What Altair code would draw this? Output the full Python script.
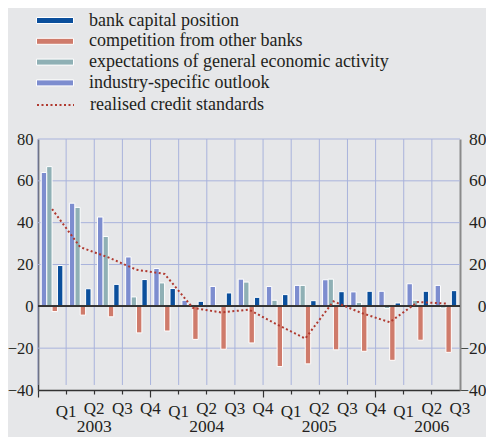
import altair as alt
import pandas as pd

quarters = ["Q1 2003", "Q2 2003", "Q3 2003", "Q4 2003",
            "Q1 2004", "Q2 2004", "Q3 2004", "Q4 2004",
            "Q1 2005", "Q2 2005", "Q3 2005", "Q4 2005",
            "Q1 2006", "Q2 2006", "Q3 2006"]
years = ["2003", "2004", "2005", "2006"]
year_anchor = ["Q3 2003", "Q3 2004", "Q3 2005", "Q3 2006"]

bank_capital = [19.5, 8.4, 10.5, 12.8, 8.5, 2.4, 6.4, 4.3, 5.6, 2.7, 7.0, 7.2, 1.6, 7.2, 7.5]
competition = [-2.5, -4.2, -5.0, -12.7, -11.8, -15.8, -20.5, -17.5, -28.8, -27.5, -20.8, -21.5, -25.8, -16.2, -22.0]
expectations = [66.8, 47.3, 33.4, 4.5, 11.2, 0.3, 0.7, 11.6, 2.9, 10.0, 13.0, 1.9, -1.0, 2.9, -0.8]
industry = [64.0, 49.3, 42.7, 23.6, 18.1, 2.9, 9.5, 13.0, 9.5, 10.0, 12.7, 6.9, 7.2, 10.8, 10.0]
realised = [46.5, 28.3, 23.4, 17.5, 15.5, -0.7, -2.9, -1.6, -8.7, -15.4, 2.4, -3.2, -7.6, 2.1, 1.3]

series_names = ["bank capital position", "competition from other banks",
                "expectations of general economic activity", "industry-specific outlook"]
bar_colors = ["#0b4f9c", "#cf7b6b", "#8fb0b5", "#7d8dcf"]
offset_order = ["industry-specific outlook", "expectations of general economic activity",
                "competition from other banks", "bank capital position"]
line_name = "realised credit standards"
grid_values = [-20, 20, 40, 60, 80]
y_ticks = [-40, -20, 0, 20, 40, 60, 80]

rows = []
for name, vals in zip(series_names, [bank_capital, competition, expectations, industry]):
    for q, v in zip(quarters, vals):
        rows.append({"quarter": q, "series": name, "value": v})
bars_df = pd.DataFrame(rows)
line_df = pd.DataFrame({"quarter": quarters, "value": realised, "series": [line_name] * len(quarters)})
grid_df = pd.DataFrame({"v": grid_values})
vgrid_df = pd.DataFrame({"quarter": quarters})
year_df = pd.DataFrame({"quarter": year_anchor, "year": years})

FONT = "Liberation Serif"
TXT = "#231f20"
GRID = "#a9b3dc"
W, H = 422, 251

xscale = alt.Scale(domain=quarters, paddingInner=0, paddingOuter=0)
yscale = alt.Scale(domain=[-40, 80], nice=False, zero=False)

hgrid = alt.Chart(grid_df).mark_rule(color=GRID, strokeWidth=1).encode(
    y=alt.Y("v:Q", scale=yscale, axis=None)
)
vgrid = alt.Chart(vgrid_df).mark_rule(color=GRID, strokeWidth=1).encode(
    x=alt.X("quarter:N", sort=quarters, scale=xscale, bandPosition=0, axis=None),
    y=alt.datum(80, scale=yscale, axis=None),
    y2=alt.datum(-37.6),
)

bars = alt.Chart(bars_df).mark_bar(stroke="white", strokeWidth=1).encode(
    x=alt.X("quarter:N", sort=quarters, scale=xscale, title=None,
            axis=alt.Axis(bandPosition=0, labelOffset=14, ticks=True,
                          tickSize={"condition": {"test": "indexof(datum.value, 'Q1') === 0", "value": 7},
                                    "value": 4},
                          labelExpr="split(datum.label, ' ')[0]",
                          labelFont=FONT, labelFontSize=17, labelColor=TXT,
                          labelPadding=6, labelAngle=0,
                          domainColor="#333333", domainWidth=1.5,
                          tickColor="#333333", tickWidth=1.2, grid=False)),
    xOffset=alt.XOffset("series:N", sort=offset_order,
                        scale=alt.Scale(domain=offset_order, paddingInner=0, paddingOuter=0.6)),
    y=alt.Y("value:Q", scale=yscale, title=None,
            axis=alt.Axis(orient="left", values=y_ticks, grid=False, ticks=False, tickSize=0,
                          labelFont=FONT, labelFontSize=16.5, labelColor=TXT, labelPadding=5,
                          domainColor="#333333", domainWidth=1.5)),
    color=alt.Color("series:N", scale=alt.Scale(domain=series_names, range=bar_colors),
                    legend=alt.Legend(title=None, orient="none", legendX=6.5, legendY=-129,
                                      symbolType="M-1.85,-0.3H1.85V0.3H-1.85Z", symbolSize=400,
                                      symbolStrokeColor="white", symbolStrokeWidth=1,
                                      symbolOpacity=1, labelLimit=400,
                                      labelFont=FONT, labelFontSize=18, labelColor=TXT,
                                      labelOffset=23.5, rowPadding=0.8, padding=0)),
)

zero = alt.Chart(grid_df).mark_rule(color="#333333", strokeWidth=1.5).encode(
    y=alt.datum(0, scale=yscale, axis=None)
)

line = alt.Chart(line_df).mark_line(color="#b0392f", strokeWidth=2).encode(
    x=alt.X("quarter:N", sort=quarters, scale=xscale, axis=None),
    y=alt.Y("value:Q", scale=yscale, title=None,
            axis=alt.Axis(orient="right", values=y_ticks, grid=False, ticks=False, tickSize=0,
                          labelFont=FONT, labelFontSize=17.5, labelColor=TXT, labelPadding=26,
                          labelAlign="right", domainColor="#8a8a8a", domainWidth=2)),
    strokeDash=alt.StrokeDash("series:N", scale=alt.Scale(domain=[line_name], range=[[2, 2.5]]),
                              legend=alt.Legend(title=None, orient="none", legendX=-2, legendY=-53.5,
                                                symbolType="stroke", symbolSize=1369,
                                                symbolStrokeColor="#b0392f", symbolStrokeWidth=2,
                                                labelFont=FONT, labelFontSize=18, labelColor=TXT,
                                                labelOffset=15, padding=0, labelLimit=400)),
)

year_text = alt.Chart(year_df).mark_text(font=FONT, fontSize=17.5, color=TXT,
                                         baseline="alphabetic", align="center").encode(
    x=alt.X("quarter:N", sort=quarters, scale=xscale, bandPosition=0, axis=None),
    y=alt.value(H + 42),
    text="year:N",
)

chart = alt.layer(hgrid, vgrid, bars, zero, line, year_text).resolve_axis(
    x="independent", y="independent"
).properties(
    width=W, height=H,
    background="#e6e7e9",
    padding={"left": 30, "top": 131, "right": 26, "bottom": 47},
    autosize=alt.AutoSizeParams(type="none"),
).configure_view(strokeWidth=0, fill="#e6e7e9")

chart.save("out.html", embed_options={"renderer": "svg", "actions": False})
